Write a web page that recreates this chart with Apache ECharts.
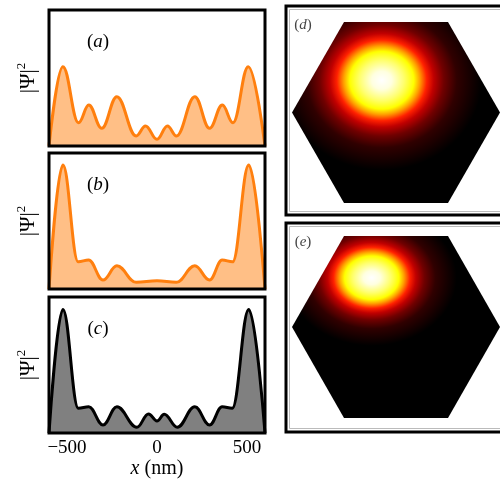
<!DOCTYPE html>
<html>
<head>
<meta charset="utf-8">
<script src="https://cdn.jsdelivr.net/npm/echarts@6/dist/echarts.min.js"></script>
<style>
  html, body { margin: 0; padding: 0; background: #fff; }
  #chart { width: 500px; height: 487px; }
</style>
</head>
<body>
<div id="chart"></div>
<script>
// |Psi|^2 profiles across the wire (x in nm), turning points of each curve
const xA = [-600, -523, -436, -379, -307, -223, -116, -64, 0, 58, 108, 210, 292, 363, 422, 507, 600];
const yA = [0, 0.583, 0.171, 0.301, 0.130, 0.363, 0.074, 0.147, 0.049, 0.147, 0.074, 0.363, 0.130, 0.301, 0.171, 0.583, 0];

const xB = [-600, -523, -438, -380, -300, -223, -116, 0, 108, 210, 292, 362, 420, 510, 600];
const yB = [0, 0.912, 0.200, 0.213, 0.066, 0.171, 0.049, 0.060, 0.049, 0.171, 0.066, 0.213, 0.200, 0.912, 0];

const xC = [-600, -523, -437, -379, -300, -223, -112, -47, 0, 40, 113, 210, 292, 362, 418, 510, 600];
const yC = [0, 0.909, 0.182, 0.193, 0.059, 0.193, 0.042, 0.140, 0.088, 0.137, 0.042, 0.193, 0.059, 0.193, 0.182, 0.909, 0];

const xTicks = [-500, 0, 500];
const panelNames = ['a', 'b', 'c'];
const mapNames = ['d', 'e'];

// hexagonal cross section (nm) and the bright spot of each map: [cx, cy, hexR, spotX, spotY, spotR]
const hexD = [0, 0, 600, -82, 185, 577];
const hexE = [0, 0, 600, -140, 281, 490];

// ---- layout ----
const LEFT = 49, WIDTH = 216;
const panels = [{ top: 10, h: 136 }, { top: 153, h: 136 }, { top: 297, h: 136 }];
const hexBoxes = [{ left: 292, top: 22, w: 208, h: 181 }, { left: 292, top: 236, w: 208, h: 182 }];
const mapFrames = [{ x: 286, y: 6, w: 240, h: 209 }, { x: 286, y: 223, w: 240, h: 209 }];

const serif = 'Liberation Serif';
const orange = '#ff7f0e', orangeFill = '#ffbf86';

// "hot" colour ramp stops for the spots
const hotStops = [
  [0.00, '#ffffff'], [0.10, '#ffffe0'], [0.22, '#ffff70'], [0.32, '#ffff00'],
  [0.38, '#ffa000'], [0.45, '#ff2000'], [0.52, '#c00000'], [0.62, '#700000'],
  [0.75, '#300000'], [1.00, '#000000']
];
const spotAspect = [0.9, 0.8];

const zip = (xs, ys) => xs.map((x, i) => [x, ys[i]]);
const profiles = [zip(xA, yA), zip(xB, yB), zip(xC, yC)];
const lineColors = [orange, orange, '#000000'];
const fillColors = [orangeFill, orangeFill, '#808080'];

const grids = [], xAxes = [], yAxes = [], series = [], graphics = [];

panels.forEach((p, i) => {
  grids.push({ left: LEFT, top: p.top, width: WIDTH, height: p.h, containLabel: false, outerBoundsMode: 'none' });
  const last = i === panels.length - 1;
  xAxes.push({
    gridIndex: i, type: 'value', min: -600, max: 600,
    axisLine: { show: false },
    splitLine: { show: false },
    axisTick: { show: true, inside: true, length: 5, customValues: xTicks, lineStyle: { color: '#000', width: 1.5 } },
    axisLabel: {
      show: last, customValues: xTicks, margin: 6,
      fontFamily: serif, fontSize: 19, color: '#000',
      formatter: v => String(v).replace('-', '\u2212')
    },
    name: last ? '{i|x} (nm)' : '',
    nameLocation: 'middle', nameGap: 26,
    nameTextStyle: { fontFamily: serif, fontSize: 20, color: '#000',
      rich: { i: { fontFamily: serif, fontSize: 20, fontStyle: 'italic', color: '#000' } } }
  });
  yAxes.push({
    gridIndex: i, type: 'value', min: 0, max: 1,
    axisLine: { show: false }, axisTick: { show: false }, axisLabel: { show: false }, splitLine: { show: false },
    name: '{n||\u03a8|}{s|2}', nameLocation: 'middle', nameRotate: 90, nameGap: 8,
    nameTextStyle: {
      color: '#000',
      rich: {
        n: { fontFamily: serif, fontSize: 21, color: '#000', lineHeight: 26 },
        s: { fontFamily: serif, fontSize: 13, color: '#000', verticalAlign: 'top', lineHeight: 26 }
      }
    }
  });
  series.push({
    type: 'line', xAxisIndex: i, yAxisIndex: i, data: profiles[i],
    smooth: 0.4, smoothMonotone: 'x', showSymbol: false, clip: true,
    lineStyle: { color: lineColors[i], width: 3 },
    areaStyle: { color: fillColors[i], opacity: 1 },
    z: 2
  });
  // frame
  graphics.push({
    type: 'rect', z: 100, silent: true,
    shape: { x: LEFT, y: p.top, width: WIDTH, height: p.h },
    style: { fill: 'none', stroke: '#000', lineWidth: 3 }
  });
  // panel letter
  graphics.push({
    type: 'text', z: 100, silent: true, x: LEFT + 49, y: p.top + 32,
    style: {
      text: '{p|(}{i|' + panelNames[i] + '}{p|)}', align: 'center', verticalAlign: 'middle',
      rich: {
        p: { fontFamily: serif, fontSize: 19, fill: '#000' },
        i: { fontFamily: serif, fontSize: 19, fontStyle: 'italic', fill: '#000' }
      }
    }
  });
});

// intensity maps on hexagons
const hexData = [hexD, hexE];
hexBoxes.forEach((b, j) => {
  const gi = panels.length + j;
  grids.push({ left: b.left, top: b.top, width: b.w, height: b.h, containLabel: false, outerBoundsMode: 'none' });
  xAxes.push({ gridIndex: gi, type: 'value', min: -600, max: 600, show: false });
  yAxes.push({ gridIndex: gi, type: 'value', min: -519.6, max: 519.6, show: false });
  const aspect = spotAspect[j];
  series.push({
    type: 'custom', xAxisIndex: gi, yAxisIndex: gi, clip: false, silent: true,
    data: [hexData[j]],
    renderItem: (params, api) => {
      const cx = api.value(0), cy = api.value(1), R = api.value(2);
      const s = api.coord([api.value(3), api.value(4)]);
      const rPx = api.size([api.value(5), 0])[0];
      const pts = [];
      for (let k = 0; k < 6; k++) {
        const a = k * Math.PI / 3;
        const p = api.coord([cx + R * Math.cos(a), cy + R * Math.sin(a)]);
        pts.push([p[0] - s[0], (p[1] - s[1]) / aspect]);
      }
      return {
        type: 'polygon', x: s[0], y: s[1], scaleY: aspect,
        shape: { points: pts },
        style: {
          fill: new echarts.graphic.RadialGradient(0, 0, rPx,
            hotStops.map(st => ({ offset: st[0], color: st[1] })), true),
          stroke: null
        }
      };
    }
  });
  const f = mapFrames[j];
  graphics.push({
    type: 'rect', z: 100, silent: true,
    shape: { x: f.x, y: f.y, width: f.w, height: f.h },
    style: { fill: 'none', stroke: '#000', lineWidth: 3 }
  });
  graphics.push({
    type: 'rect', z: 100, silent: true,
    shape: { x: f.x + 3.5, y: f.y + 3.5, width: f.w - 7, height: f.h - 7 },
    style: { fill: 'none', stroke: '#bbbbbb', lineWidth: 1 }
  });
  graphics.push({
    type: 'text', z: 100, silent: true, x: f.x + 17, y: f.y + 19,
    style: {
      text: '{p|(}{i|' + mapNames[j] + '}{p|)}', align: 'center', verticalAlign: 'middle',
      rich: {
        p: { fontFamily: serif, fontSize: 15, fill: '#444' },
        i: { fontFamily: serif, fontSize: 15, fontStyle: 'italic', fill: '#444' }
      }
    }
  });
});

const chart = echarts.init(document.getElementById('chart'), null, { renderer: 'canvas' });
chart.setOption({
  animation: false,
  backgroundColor: '#ffffff',
  grid: grids,
  xAxis: xAxes,
  yAxis: yAxes,
  series: series,
  graphic: graphics
});
</script>
</body>
</html>
